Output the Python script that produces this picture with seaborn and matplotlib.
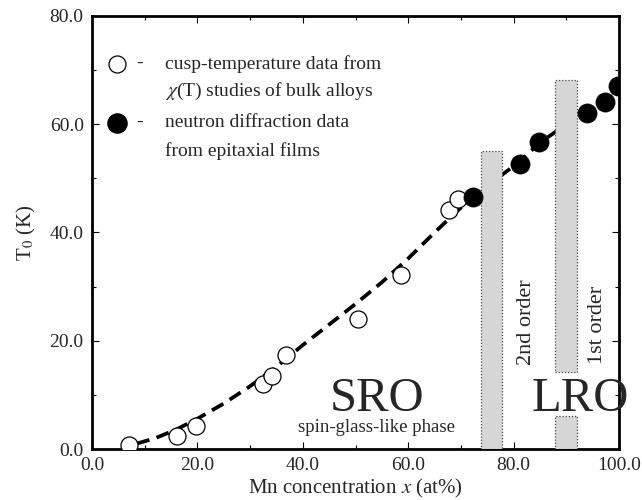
import matplotlib
matplotlib.use("Agg")
import matplotlib.pyplot as plt
import seaborn as sns
import pandas as pd
from matplotlib.ticker import MultipleLocator, FormatStrFormatter

# ---- data ----
bulk_x = [7.0, 16.2, 19.8, 32.5, 34.2, 36.9, 50.5, 58.6, 67.8, 69.4]
bulk_y = [0.7, 2.4, 4.3, 12.1, 13.5, 17.4, 24.0, 32.2, 44.2, 46.2]

film_x = [72.2, 81.2, 84.9, 93.9, 97.3, 99.9]
film_y = [46.6, 52.7, 56.8, 62.0, 64.1, 67.0]

# guide curve, two segments split at the 1st-order transition
curve1_x = [8.5, 12, 16, 20, 25, 30, 35, 40, 45, 50, 55, 60, 65, 70, 74, 78, 81, 85, 89]
curve1_y = [1.0, 2.0, 3.6, 5.6, 8.4, 11.6, 15.2, 19.2, 23.0, 26.8, 30.8, 35.2, 40.0, 44.6, 47.6, 50.8, 53.0, 56.6, 59.3]
curve2_x = [93.0, 95.5, 97.3, 100.0]
curve2_y = [61.4, 62.9, 64.1, 67.0]

# transition bands: left edge, width, bottom, top
band_left = [73.9, 87.9, 87.9]
band_width = [3.9, 4.1, 4.1]
band_bottom = [0.0, 14.3, 0.0]
band_top = [55.1, 68.2, 6.1]

sns.set_theme(style="white")
plt.rcParams["font.family"] = ["Liberation Serif", "DejaVu Serif"]
plt.rcParams["mathtext.fontset"] = "stix"

fig = plt.figure(figsize=(6.42, 5.0), dpi=100)
ax = fig.add_axes([0.1433, 0.102, 0.8209, 0.866])

c1 = pd.DataFrame({"x": curve1_x, "y": curve1_y})
c2 = pd.DataFrame({"x": curve2_x, "y": curve2_y})
for c in (c1, c2):
    sns.lineplot(data=c, x="x", y="y", ax=ax, color="black", lw=2.7, sort=False,
                 estimator=None, zorder=2)
for ln in ax.lines:
    ln.set_dashes([3.5, 2.0])
    ln.set_dash_capstyle("butt")

heights = [t - b for t, b in zip(band_top, band_bottom)]
ax.bar(band_left, heights, width=band_width, bottom=band_bottom, align="edge",
       color="#d6d6d6", edgecolor="#444444", linestyle=(0, (1, 1.5)), linewidth=0.9,
       zorder=3)

bulk = pd.DataFrame({"x": bulk_x, "y": bulk_y})
film = pd.DataFrame({"x": film_x, "y": film_y})
sns.scatterplot(data=bulk, x="x", y="y", ax=ax, s=150, facecolor="white",
                edgecolor="black", linewidth=0.9, zorder=4)
sns.scatterplot(data=film, x="x", y="y", ax=ax, s=190, color="black",
                edgecolor="black", linewidth=0.5, zorder=5)

# legend drawn by hand
ax.scatter([4.7], [71.2], s=150, facecolor="white", edgecolor="black", linewidth=0.9, zorder=5)
ax.scatter([4.7], [60.3], s=190, color="black", zorder=5)
ax.text(9.0, 71.2, "-", fontsize=14, va="center", ha="center")
ax.text(9.0, 60.3, "-", fontsize=14, va="center", ha="center")
ax.text(13.8, 71.2, "cusp-temperature data from", fontsize=14, va="center")
ax.text(13.8, 66.0, r"$\chi$(T) studies of bulk alloys", fontsize=14, va="center")
ax.text(13.8, 60.3, "neutron diffraction data", fontsize=14, va="center")
ax.text(13.8, 55.1, "from epitaxial films", fontsize=14, va="center")

ax.text(54.0, 9.2, "SRO", fontsize=35, ha="center", va="center")
ax.text(54.0, 3.9, "spin-glass-like phase", fontsize=13.5, ha="center", va="center")
ax.text(92.6, 9.2, "LRO", fontsize=35, ha="center", va="center")
ax.text(82.5, 23.5, "2nd order", fontsize=16, rotation=90, ha="center", va="center")
ax.text(96.0, 23.0, "1st order", fontsize=16, rotation=90, ha="center", va="center")

ax.set_xlim(0, 100)
ax.set_ylim(0, 80)
ax.xaxis.set_major_locator(MultipleLocator(20))
ax.xaxis.set_minor_locator(MultipleLocator(10))
ax.yaxis.set_major_locator(MultipleLocator(20))
ax.yaxis.set_minor_locator(MultipleLocator(10))
ax.xaxis.set_major_formatter(FormatStrFormatter("%.1f"))
ax.yaxis.set_major_formatter(FormatStrFormatter("%.1f"))
ax.tick_params(which="both", direction="in", top=True, right=True, bottom=True, left=True,
               labelsize=14, color="black", width=0.8)
ax.tick_params(which="major", length=5, pad=6)
ax.tick_params(which="minor", length=3)
for sp in ax.spines.values():
    sp.set_linewidth(2.0)
    sp.set_color("black")

ax.set_xlabel(r"Mn concentration $\it{x}$ (at%)", fontsize=15, labelpad=2)
ax.set_ylabel(r"T$_0$ (K)", fontsize=15, labelpad=8)

fig.savefig("out.png", dpi=100)
